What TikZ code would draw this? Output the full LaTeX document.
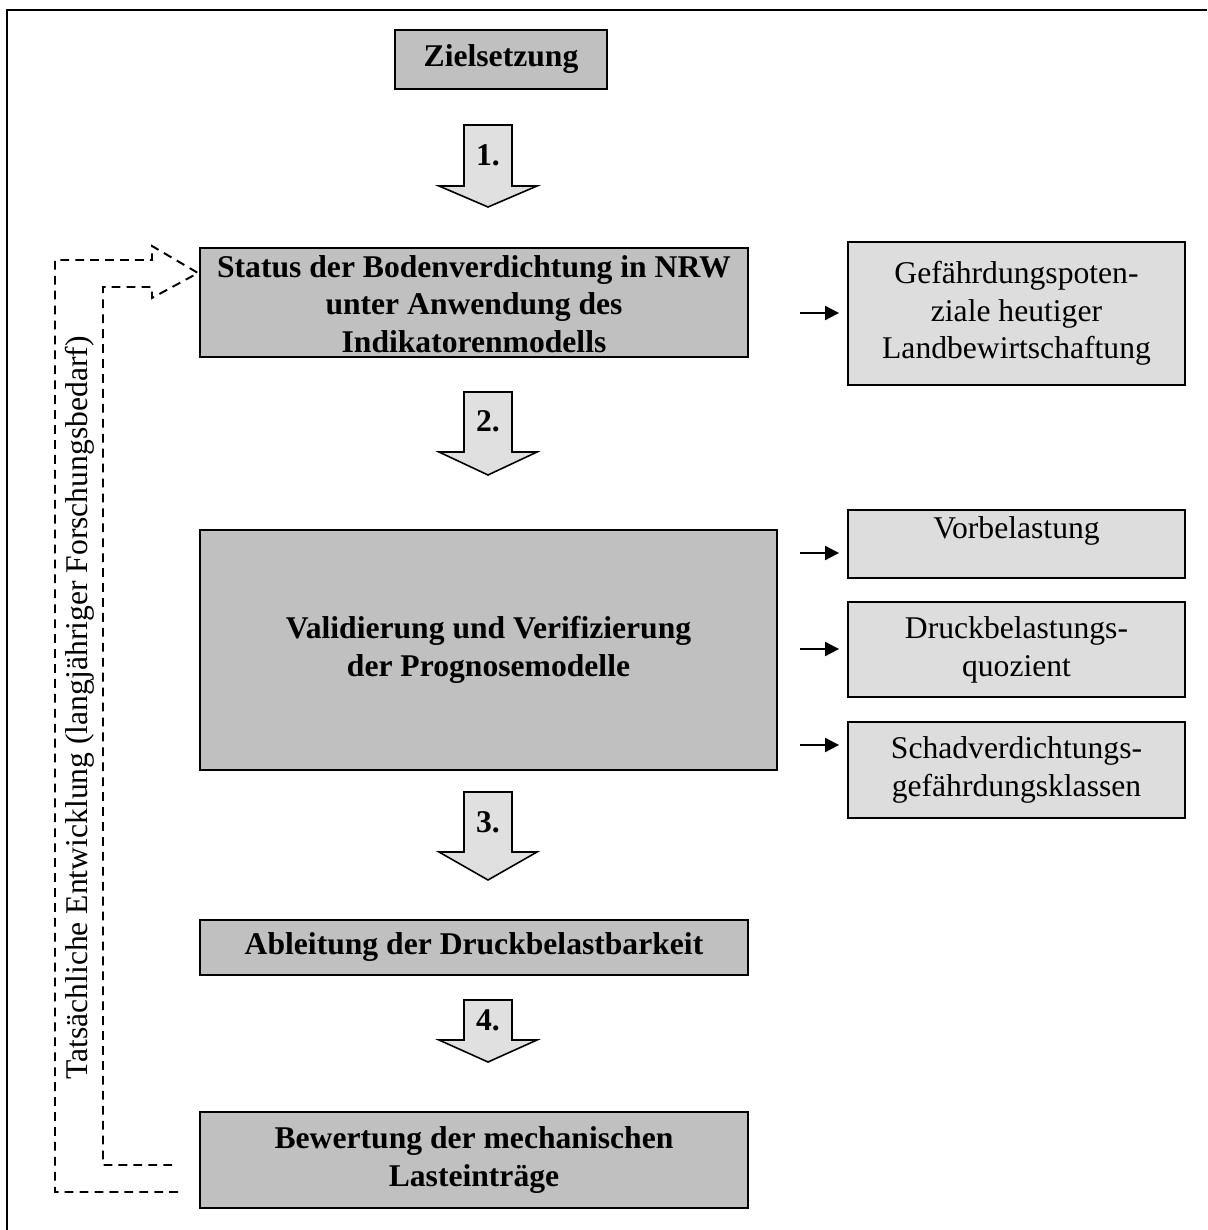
\documentclass[tikz,border=0pt]{standalone}
\usepackage{fontspec}
\setmainfont{Liberation Serif}
\usetikzlibrary{arrows.meta}
\definecolor{darkfill}{HTML}{C0C0C0}
\definecolor{lightfill}{HTML}{DDDDDD}
\definecolor{arrfill}{HTML}{E0E0E0}
\begin{document}
\begin{tikzpicture}[x=0.02cm,y=-0.02cm,
  txt/.style={font=\fontsize{18pt}{21.5pt}\selectfont, align=center},
  mainbox/.style={draw=black, line width=1.1pt, fill=darkfill, inner sep=0pt, txt, font=\bfseries\fontsize{18pt}{21.5pt}\selectfont},
  sidebox/.style={draw=black, line width=1.1pt, fill=lightfill, inner sep=0pt, txt, minimum width=6.74cm},
  blockarr/.style={draw=black, line width=0.9pt, fill=arrfill, line join=miter},
  numlabel/.style={font=\bfseries\fontsize{18pt}{21.5pt}\selectfont, inner sep=0pt},
  sarr/.style={-{Triangle[length=8pt,width=8pt]}, line width=1.1pt, shorten >=0.16cm},
  fb/.style={dash pattern=on 5pt off 3.5pt, line width=1.1pt}
]
\useasboundingbox (0,0) rectangle (1207,1230);
% outer frame
\draw[line width=1.2pt] (7,1230) -- (7,10) -- (1207,10);

% main boxes
\node[mainbox, minimum width=4.24cm, minimum height=1.18cm] (ziel) at (501,59.5) {Zielsetzung};
\node[mainbox, minimum width=10.96cm, minimum height=2.18cm] (status) at (474,302.5) {};
\node[mainbox, fill=none, draw=none] (statustxt) at (474,304) {Status der Bodenverdichtung in NRW\\unter Anwendung des\\Indikatorenmodells};
\node[mainbox, minimum width=11.54cm, minimum height=4.8cm] (valid) at (488.5,650) {Validierung und Verifizierung\\der Prognosemodelle};
\node[mainbox, minimum width=10.96cm, minimum height=1.1cm] (ableit) at (474,947.5) {Ableitung der Druckbelastbarkeit};
\node[mainbox, minimum width=10.96cm, minimum height=1.92cm] (bewert) at (474,1160) {Bewertung der mechanischen\\Lasteinträge};

% side boxes
\node[sidebox, minimum height=2.86cm] (gef) at (1016.5,313.5) {Gefährdungspoten-\\ziale heutiger\\Landbewirtschaftung};
\node[sidebox, minimum height=1.36cm] (vorb) at (1016.5,544) {};
\node[txt, inner sep=0pt] (vorbtxt) at (1016.5,531) {Vorbelastung};
\node[sidebox, minimum height=1.9cm] (druck) at (1016.5,649.5) {Druckbelastungs-\\quozient};
\node[sidebox, minimum height=1.92cm] (schad) at (1016.5,770) {Schadverdichtungs-\\gefährdungsklassen};

% block arrows
\newcommand{\blockarrow}[3]{%
  \draw[blockarr] (464,#1) -- (512,#1) -- (512,#2) -- (537,#2) -- (488,#3) -- (439,#2) -- (464,#2) -- cycle;}
\blockarrow{125}{186}{207}
\blockarrow{392}{452}{475}
\blockarrow{792}{852}{880}
\blockarrow{1000}{1040}{1062}
\node[numlabel] (n1) at (488,155) {1.};
\node[numlabel] (n2) at (488,421) {2.};
\node[numlabel] (n3) at (488,822) {3.};
\node[numlabel] (n4) at (488,1020) {4.};

% small arrows
\coordinate (s1) at (800,313);
\coordinate (s2) at (800,553);
\coordinate (s3) at (800,649);
\coordinate (s4) at (800,745);
\draw[sarr] (s1) -- (s1 -| gef.west);
\draw[sarr] (s2) -- (s2 -| vorb.west);
\draw[sarr] (s3) -- (s3 -| druck.west);
\draw[sarr] (s4) -- (s4 -| schad.west);

% feedback dashed arrow
\coordinate (fo) at (178,1192);
\coordinate (fi) at (178,1165);
\coordinate (tip) at (198,273);
\draw[fb] (fo) -- (55,1192) -- (55,260) -- (152,260) -- (152,246) -- (tip) -- (152,298) -- (152,287) -- (103,287) -- (103,1165) -- (fi);
\node[txt, rotate=90, inner sep=0pt] (fbtxt) at (80,708) {Tatsächliche Entwicklung (langjähriger Forschungsbedarf)};
\end{tikzpicture}
\end{document}
